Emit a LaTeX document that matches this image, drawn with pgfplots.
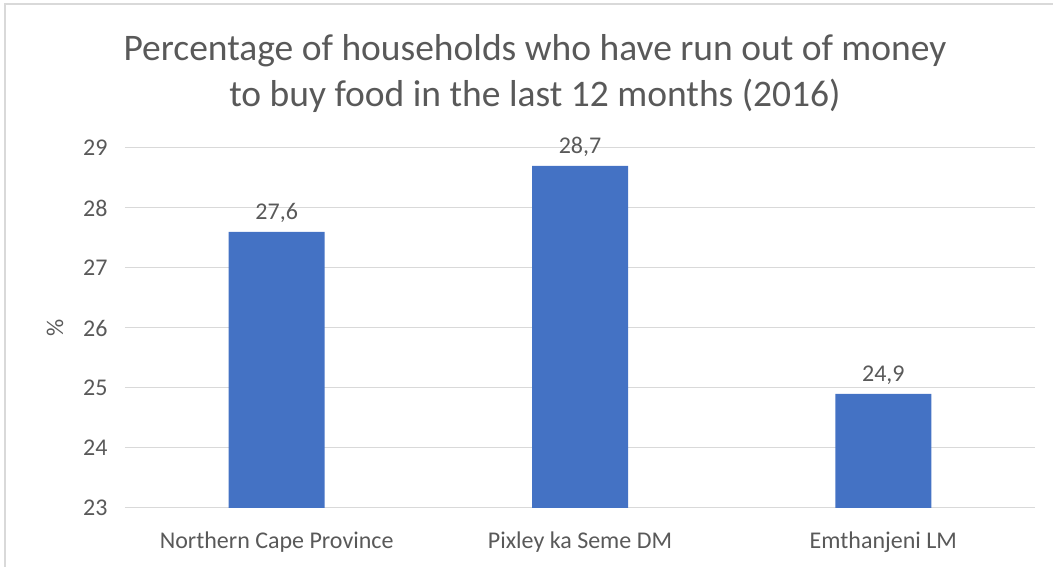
\documentclass[border=0pt]{standalone}
\usepackage{pgfplots}
\pgfplotsset{compat=1.18}
\usepackage{fontspec}
\setmainfont{Carlito}
\definecolor{txt}{HTML}{595959}
\definecolor{gridc}{HTML}{D9D9D9}
\definecolor{barc}{HTML}{4472C4}
\definecolor{framec}{HTML}{D9D9D9}
\begin{document}
\begin{tikzpicture}
\useasboundingbox (-125pt,-59pt) rectangle (928pt,508pt);
\draw[framec, line width=1.2pt] (-120pt,-70pt) -- (-120pt,504pt) -- (940pt,504pt);
\begin{axis}[
  at={(0,0)}, anchor=south west,
  scale only axis, width=910pt, height=360pt,
  xmin=-0.5, xmax=2.5, ymin=23, ymax=29,
  ytick={23,...,29},
  xtick={0,1,2},
  xticklabels={Northern Cape Province, Pixley ka Seme DM, Emthanjeni LM},
  ybar, bar width=96pt,
  axis line style={draw=none},
  major tick length=0pt,
  xmajorgrids=false,
  ymajorgrids=true, 
  major grid style={draw=gridc, line width=1pt},
  /pgf/number format/assume math mode=true,
  tick label style={font=\fontsize{24}{26}\selectfont, text=txt},
  yticklabel style={xshift=-14pt},
  xticklabel style={yshift=-20pt},
  ylabel={\%},
  ylabel style={at={(axis description cs:-0.077,0.5)}, anchor=center, font=\fontsize{24}{26}\selectfont, text=txt},
  nodes near coords,
  nodes near coords style={yshift=6pt, font=\fontsize{24}{26}\selectfont, text=txt, /pgf/number format/.cd, fixed, fixed zerofill, precision=1, use comma, assume math mode=true},
  clip=false,
]
\addplot[fill=barc, draw=none] coordinates {(0,27.6) (1,28.7) (2,24.9)};
\end{axis}
\node[anchor=base, text=txt, font=\fontsize{37.5}{40}\selectfont] at (410pt,447pt) {Percentage of households who have run out of money};
\node[anchor=base, text=txt, font=\fontsize{37.5}{40}\selectfont] at (410pt,401pt) {to buy food in the last 12 months (2016)};
\end{tikzpicture}
\end{document}
